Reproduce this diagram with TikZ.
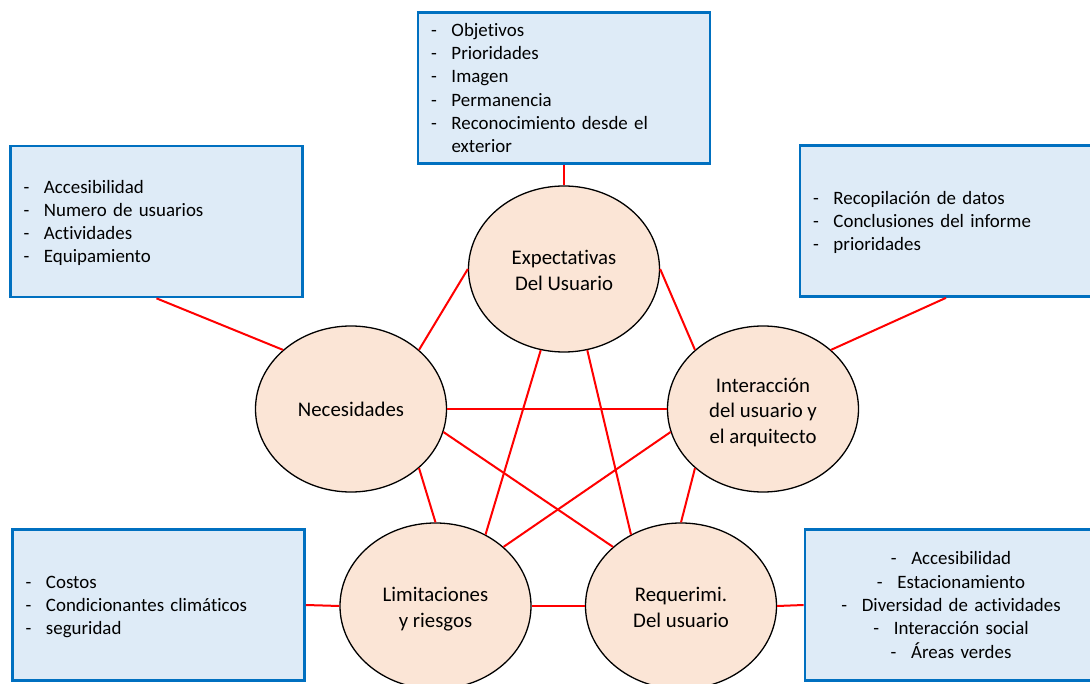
\documentclass[tikz,border=0pt]{standalone}
\usepackage{fontspec}
\setmainfont{Carlito}[Ligatures=NoCommon]
\usetikzlibrary{shapes.geometric}
\definecolor{boxblue}{HTML}{0070C0}
\definecolor{boxfill}{HTML}{DEEBF7}
\definecolor{peach}{HTML}{FBE5D6}
% line strut mimicking Office line metrics (ascent 0.952em, descent 0.269em)
\newcommand{\ls}{\rule[-0.269em]{0pt}{1.221em}}
% first-line strut for ellipse text (slightly taller, lowers the block a little)
\newcommand{\lsf}{\rule[-0.269em]{0pt}{\dimexpr1.221em+3pt\relax}}
\newcommand{\itm}[1]{\ls\makebox[20.5pt][l]{-}#1}
\begin{document}
\begin{tikzpicture}[x=1pt,y=-1pt,
  infobox/.style={rectangle, draw=boxblue, fill=boxfill, line width=2.7pt,
    minimum width=292pt, minimum height=151pt, text width=266pt,
    inner xsep=13pt, inner ysep=0pt, align=left,
    font=\fontsize{18.9pt}{23.3pt}\selectfont},
  bubble/.style={ellipse, draw=black, line width=1.3pt, fill=peach,
    minimum width=191pt, minimum height=166pt, inner sep=0pt, align=center,
    font=\fontsize{20.8pt}{25.5pt}\selectfont},
  link/.style={draw=red, line width=2pt}]
\useasboundingbox (0,0) rectangle (1090,684);
\clip (0,0) rectangle (1090,684);

% info boxes
\node[infobox] (tb) at (564,88) {\itm{Objetivos}\\ \itm{Prioridades}\\ \itm{Imagen}\\ \itm{Permanencia}\\ \itm{Reconocimiento desde el}\\ \ls\hspace*{20.5pt}exterior};
\node[infobox] (ltb) at (156.5,221.5) {\itm{Accesibilidad}\\ \itm{Numero de usuarios}\\ \itm{Actividades}\\ \itm{Equipamiento}};
\node[infobox] (rtb) at (946,221) {\itm{Recopilación de datos}\\ \itm{Conclusiones del informe}\\ \itm{prioridades}};
\node[infobox] (lbb) at (158.5,605) {\itm{Costos}\\ \itm{Condicionantes climáticos}\\ \itm{seguridad}};
\node[infobox, align=center] (rbb) at (951,605) {\itm{Accesibilidad}\\ \itm{Estacionamiento}\\ \itm{Diversidad de actividades}\\ \itm{Interacción social}\\ \itm{Áreas verdes}};

% ellipses
\node[bubble] (exp) at (564,269) {\lsf Expectativas\\\ls Del Usuario};
\node[bubble] (nec) at (351,409) {\ls Necesidades};
\node[bubble] (int) at (763,409) {\lsf Interacción\\\ls del usuario y\\\ls el arquitecto};
\node[bubble] (lim) at (435.5,606) {\lsf Limitaciones\\\ls y riesgos};
\node[bubble] (req) at (681,606) {\lsf Requerimi.\\\ls Del usuario};

% box connectors
\draw[link] (tb.south) -- (exp.north);
\draw[link] (ltb.south) -- (nec.139);
\draw[link] (rtb.south) -- (int.41);
\draw[link] (lbb.east) -- (lim.west);
\draw[link] (rbb.west) -- (req.east);

% ellipse connectors
\draw[link] (exp.180) -- (nec.41);
\draw[link] (exp.0) -- (int.139);
\draw[link] (exp.254) -- (lim.55);
\draw[link] (exp.286) -- (req.125);
\draw[link] (nec.0) -- (int.180);
\draw[link] (nec.-14) -- (req.139);
\draw[link] (int.194) -- (lim.41);
\draw[link] (nec.-41) -- (lim.90);
\draw[link] (int.221) -- (req.90);
\draw[link] (lim.0) -- (req.180);
\end{tikzpicture}
\end{document}
